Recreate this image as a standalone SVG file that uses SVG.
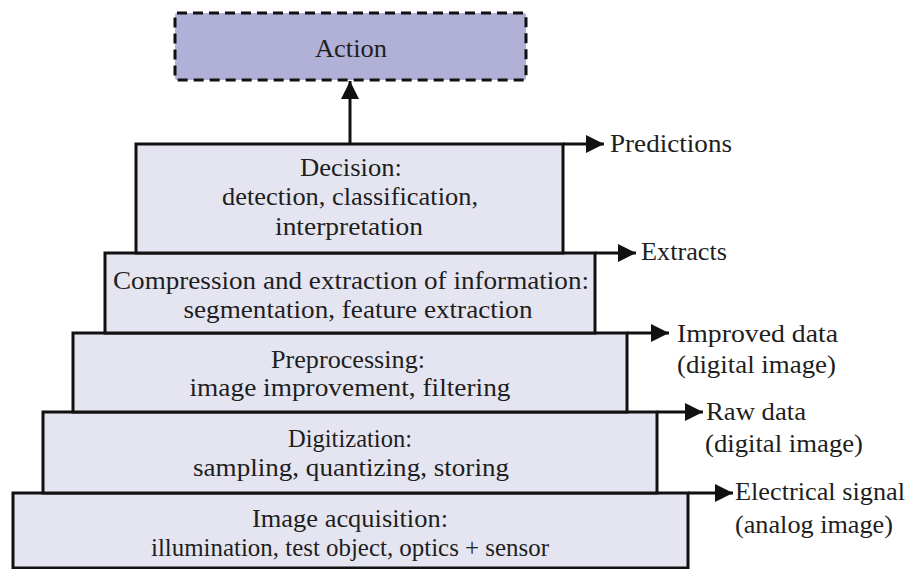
<svg xmlns="http://www.w3.org/2000/svg" width="907" height="569" viewBox="0 0 907 569">
<style>
.box{fill:#e5e5f1;stroke:#111;stroke-width:3}
.act{fill:#b1b1d7;stroke:#111;stroke-width:3;stroke-dasharray:10 6}
.t{font-family:"Liberation Serif","DejaVu Serif",serif;font-size:26px;fill:#1e1e1e}
.c{text-anchor:middle}
.ln{stroke:#111;stroke-width:3;fill:none}
</style>
<defs>
<marker id="ah" viewBox="0 0 10 10" refX="10" refY="5" markerWidth="6" markerHeight="6.5" markerUnits="strokeWidth" orient="auto">
<path d="M0,0 L10,5 L0,10 z" fill="#111"/>
</marker>
</defs>
<rect width="907" height="569" fill="#fff"/>
<g id="action">
<rect class="act" x="175" y="13" width="351" height="67" rx="2"/>
<text class="t c" x="351" y="57" textLength="72" lengthAdjust="spacingAndGlyphs">Action</text>
</g>
<g id="acquisition">
<rect class="box" x="13" y="493" width="675" height="75"/>
<text class="t c" x="350" y="527" textLength="196" lengthAdjust="spacingAndGlyphs">Image acquisition:</text>
<text class="t c" x="350" y="556" textLength="398" lengthAdjust="spacingAndGlyphs">illumination, test object, optics + sensor</text>
</g>
<g id="digitization">
<rect class="box" x="43" y="412" width="614" height="81"/>
<text class="t c" x="350" y="447" textLength="124" lengthAdjust="spacingAndGlyphs">Digitization:</text>
<text class="t c" x="351" y="476" textLength="316" lengthAdjust="spacingAndGlyphs">sampling, quantizing, storing</text>
</g>
<g id="preprocessing">
<rect class="box" x="73" y="333" width="554" height="79"/>
<text class="t c" x="348" y="368" textLength="154" lengthAdjust="spacingAndGlyphs">Preprocessing:</text>
<text class="t c" x="350" y="396" textLength="321" lengthAdjust="spacingAndGlyphs">image improvement, filtering</text>
</g>
<g id="compression">
<rect class="box" x="105" y="253" width="490" height="80"/>
<text class="t c" x="351" y="289" textLength="476" lengthAdjust="spacingAndGlyphs">Compression and extraction of information:</text>
<text class="t c" x="358" y="318" textLength="349" lengthAdjust="spacingAndGlyphs">segmentation, feature extraction</text>
</g>
<g id="decision">
<rect class="box" x="136" y="144" width="427" height="109"/>
<text class="t c" x="351" y="176" textLength="102" lengthAdjust="spacingAndGlyphs">Decision:</text>
<text class="t c" x="350" y="205" textLength="256" lengthAdjust="spacingAndGlyphs">detection, classification,</text>
<text class="t c" x="349" y="235" textLength="148" lengthAdjust="spacingAndGlyphs">interpretation</text>
</g>
<g id="connectors">
<line class="ln" x1="350" y1="144" x2="350" y2="81" marker-end="url(#ah)"/>
<line class="ln" x1="563" y1="144" x2="604" y2="144" marker-end="url(#ah)"/>
<line class="ln" x1="595" y1="253" x2="636" y2="253" marker-end="url(#ah)"/>
<line class="ln" x1="627" y1="333" x2="669" y2="333" marker-end="url(#ah)"/>
<line class="ln" x1="657" y1="412" x2="703" y2="412" marker-end="url(#ah)"/>
<line class="ln" x1="688" y1="493" x2="733" y2="493" marker-end="url(#ah)"/>
</g>
<g id="labels">
<text class="t" x="610" y="152" textLength="122" lengthAdjust="spacingAndGlyphs">Predictions</text>
<text class="t" x="641" y="260" textLength="86" lengthAdjust="spacingAndGlyphs">Extracts</text>
<text class="t" x="677" y="342" textLength="161" lengthAdjust="spacingAndGlyphs">Improved data</text>
<text class="t" x="677" y="373" textLength="159" lengthAdjust="spacingAndGlyphs">(digital image)</text>
<text class="t" x="706" y="420" textLength="100" lengthAdjust="spacingAndGlyphs">Raw data</text>
<text class="t" x="705" y="452" textLength="158" lengthAdjust="spacingAndGlyphs">(digital image)</text>
<text class="t" x="735" y="500" textLength="170" lengthAdjust="spacingAndGlyphs">Electrical signal</text>
<text class="t" x="735" y="533" textLength="158" lengthAdjust="spacingAndGlyphs">(analog image)</text>
</g>
</svg>
